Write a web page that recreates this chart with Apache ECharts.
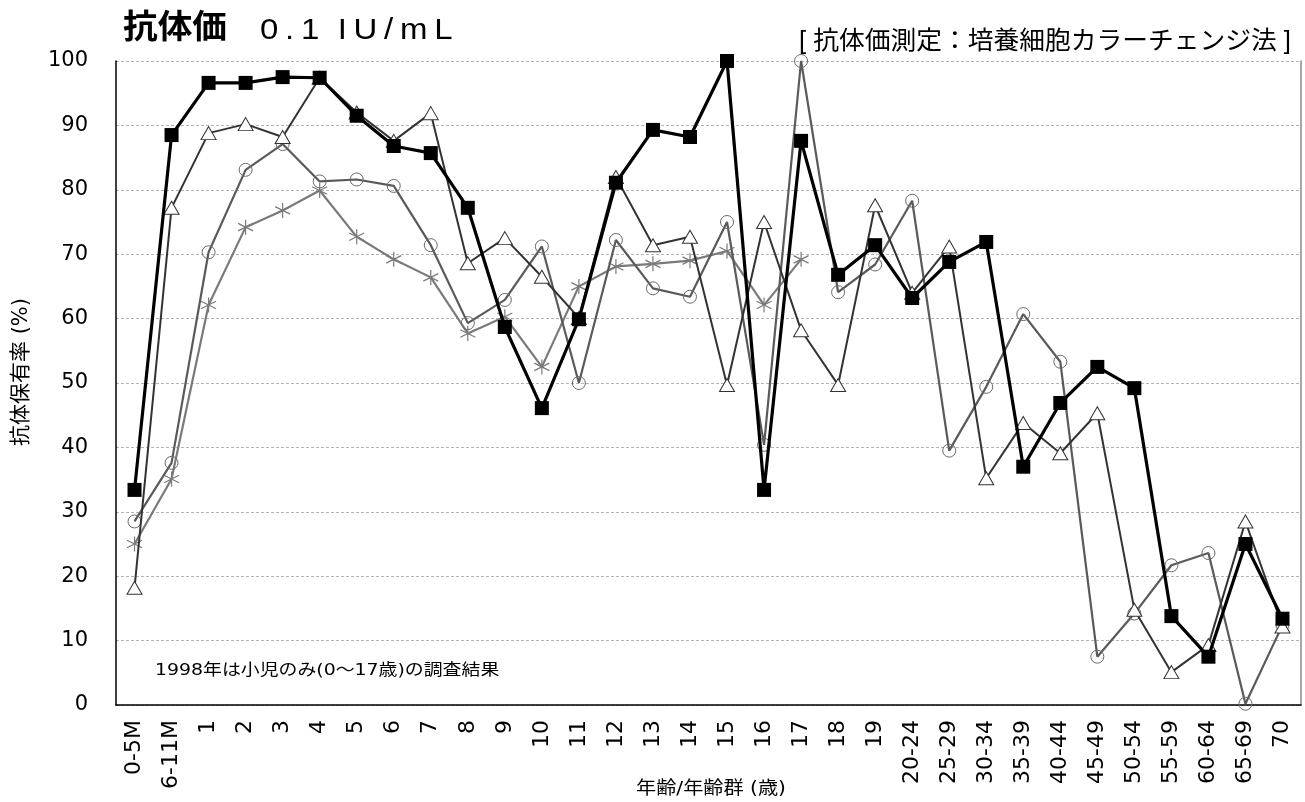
<!DOCTYPE html>
<html>
<head>
<meta charset="utf-8">
<script src="https://cdn.jsdelivr.net/npm/echarts@6/dist/echarts.min.js"></script>
<style>
html,body{margin:0;padding:0;background:#fff;}
#c{width:1305px;height:802px;}
</style>
</head>
<body>
<div id="c"></div>
<script>
var categories = ['0-5M','6-11M','1','2','3','4','5','6','7','8','9','10','11','12','13','14','15','16','17','18','19','20-24','25-29','30-34','35-39','40-44','45-49','50-54','55-59','60-64','65-69','70'];
var yTicks = [0,10,20,30,40,50,60,70,80,90,100];
var seriesSquare = [33.4,88.5,96.6,96.6,97.5,97.4,91.5,86.8,85.7,77.2,58.7,46.1,59.9,81.1,89.3,88.2,100,33.4,87.6,66.8,71.4,63.2,68.8,71.9,37.0,46.9,52.5,49.2,13.8,7.5,25.0,13.4];
var seriesTriangle = [18.2,77.2,88.8,90.2,88.2,97.4,92.0,87.6,91.9,68.6,72.5,66.5,60.1,82.0,71.4,72.7,49.7,75.0,58.2,49.7,77.6,64.0,71.2,35.2,43.8,39.1,45.3,14.8,5.1,9.3,28.5,12.2];
var seriesCircle = [28.5,37.6,70.3,83.1,87.1,81.3,81.6,80.6,71.4,59.3,62.9,71.2,50.0,72.2,64.7,63.4,75.0,40.4,100,64.1,68.4,78.3,39.5,49.4,60.7,53.3,7.5,14.2,21.7,23.6,0.2,12.4];
var seriesStar = [25.0,35.1,62.1,74.2,76.8,79.9,72.7,69.2,66.4,57.7,60.3,52.5,65.0,68.1,68.5,69.0,70.5,62.1,69.2];

var FONT = '"Liberation Sans", "Noto Sans CJK JP", Arial, sans-serif';
var FONT2 = '"DejaVu Sans", "Noto Sans CJK JP", sans-serif';
var chart = echarts.init(document.getElementById('c'));
var starPath = 'path://M0,-10L0,10M-8.66,-5L8.66,5M-8.66,5L8.66,-5';

chart.setOption({
  backgroundColor: '#ffffff',
  animation: false,
  textStyle: {fontFamily: FONT},
  graphic: [
    {type: 'text', x: 123, y: 29, scaleX: 1.05, style: {text: '抗体価', fontSize: 33, fontWeight: 'bold', fill: '#000', fontFamily: FONT, verticalAlign: 'middle', align: 'left'}},
    {type: 'text', x: 260, y: 31, scaleX: 1.1, style: {
      text: '{b|0}{s| }{b|.}{s| }{b|1}{g| }{b|I}{s| }{b|U}{s| }{b|/}{s| }{b|m}{s| }{b|L}',
      verticalAlign: 'middle', align: 'left',
      rich: {
        b: {fontSize: 30, fill: '#000', fontFamily: FONT},
        s: {fontSize: 22, fill: '#000', fontFamily: FONT},
        g: {fontSize: 60, fill: '#000', fontFamily: FONT}
      }}},
    {type: 'text', x: 1291, y: 42, scaleX: 1.03, style: {text: '[ 抗体価測定：培養細胞カラーチェンジ法 ]', fontSize: 25, fill: '#000', fontFamily: FONT, verticalAlign: 'middle', align: 'right'}},
    {type: 'text', x: 155, y: 671, scaleX: 1.18, style: {text: '1998年は小児のみ(0～17歳)の調査結果', fontSize: 16, fill: '#000', fontFamily: FONT2, verticalAlign: 'middle', align: 'left'}},
    {type: 'text', x: 711, y: 789, scaleX: 1.12, style: {text: '年齢/年齢群 (歳)', fontSize: 18, fill: '#000', fontFamily: FONT2, verticalAlign: 'middle', align: 'center'}},
    {type: 'text', x: 22, y: 372, rotation: Math.PI / 2, style: {text: '抗体保有率 (%)', fontSize: 21, fill: '#000', fontFamily: FONT2, verticalAlign: 'middle', align: 'center'}}
  ],
  grid: {left: 116, right: 4, top: 61, bottom: 97, containLabel: false},
  xAxis: {
    type: 'category',
    data: categories,
    boundaryGap: true,
    axisLine: {lineStyle: {color: '#000', width: 1.5}},
    axisTick: {show: false},
    axisLabel: {rotate: 90, fontSize: 22, color: '#000', margin: 15, interval: 0, fontFamily: FONT2},
    splitLine: {show: false}
  },
  yAxis: [{
    type: 'value',
    min: 0, max: 100, interval: 10,
    axisLine: {show: true, lineStyle: {color: '#000', width: 1.5}},
    axisTick: {show: false},
    axisLabel: {fontSize: 21, color: '#000', margin: 28, fontFamily: FONT2,
      formatter: function(v){ return yTicks.indexOf(v) >= 0 ? String(v) : ''; }},
    splitLine: {show: true, lineStyle: {color: '#b4b4b4', type: [3, 2], width: 1}}
  }, {
    type: 'value', position: 'right', min: 0, max: 100, interval: 10,
    axisLine: {show: true, lineStyle: {color: '#8a8a8a', width: 1.5}},
    axisTick: {show: false}, axisLabel: {show: false}, splitLine: {show: false}
  }],
  series: [
    {
      name: 'star', type: 'line', data: seriesStar,
      symbol: starPath, symbolSize: 15,
      lineStyle: {color: '#7a7a7a', width: 2.2},
      itemStyle: {color: 'rgba(0,0,0,0)', borderColor: '#7a7a7a', borderWidth: 1.2},
      z: 2
    },
    {
      name: 'circle', type: 'line', data: seriesCircle,
      symbol: 'circle', symbolSize: 13,
      lineStyle: {color: '#5a5a5a', width: 2.2},
      itemStyle: {color: 'rgba(255,255,255,0)', borderColor: '#6a6a6a', borderWidth: 1},
      z: 3
    },
    {
      name: 'triangle', type: 'line', data: seriesTriangle,
      symbol: 'triangle', symbolSize: [15, 13],
      lineStyle: {color: '#333333', width: 2},
      itemStyle: {color: '#ffffff', borderColor: '#333333', borderWidth: 1},
      z: 4
    },
    {
      name: 'square', type: 'line', data: seriesSquare,
      symbol: 'rect', symbolSize: 14,
      lineStyle: {color: '#000000', width: 3.2},
      itemStyle: {color: '#000000', borderColor: '#000', borderWidth: 0},
      z: 5
    }
  ]
});
</script>
</body>
</html>
